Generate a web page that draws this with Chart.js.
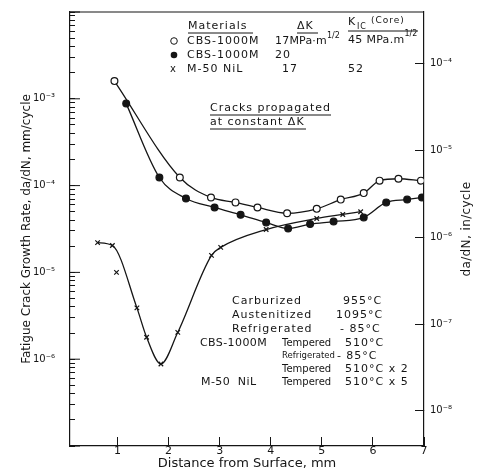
<!DOCTYPE html>
<html>
<head>
<meta charset="utf-8">
<script src="https://cdn.jsdelivr.net/npm/chart.js@4.4.0/dist/chart.umd.min.js"></script>
<style>
  html, body { margin: 0; padding: 0; background: #fff; }
  #wrap { width: 477px; height: 473px; }
</style>
</head>
<body>
<div id="wrap"><canvas id="crackChart" width="477" height="473"></canvas></div>
<script>
// distance from surface (mm) vs da/dN (mm/cycle)
const distOpen = [0.94, 2.22, 2.83, 3.31, 3.74, 4.32, 4.90, 5.37, 5.82, 6.13, 6.50, 6.94];
const rateOpen = [1.6e-3, 1.24e-4, 7.3e-5, 6.4e-5, 5.6e-5, 4.8e-5, 5.4e-5, 6.9e-5, 8.2e-5, 1.14e-4, 1.2e-4, 1.14e-4];

const distFilled = [1.17, 1.82, 2.34, 2.90, 3.41, 3.91, 4.34, 4.77, 5.23, 5.82, 6.26, 6.67, 6.96];
const rateFilled = [8.8e-4, 1.24e-4, 7.1e-5, 5.6e-5, 4.6e-5, 3.76e-5, 3.2e-5, 3.6e-5, 3.85e-5, 4.3e-5, 6.4e-5, 6.9e-5, 7.3e-5];

const distNil = [0.61, 0.90, 0.98, 1.38, 1.57, 1.85, 2.18, 2.84, 3.02, 3.91, 4.90, 5.41, 5.76];
const rateNil = [2.2e-5, 2.04e-5, 1.0e-5, 3.9e-6, 1.79e-6, 8.8e-7, 2.04e-6, 1.57e-5, 1.94e-5, 3.12e-5, 4.18e-5, 4.65e-5, 5.0e-5];
// the hand-drawn curve misses this scatter point
const nilOffCurve = [2];

const xTicks = [1, 2, 3, 4, 5, 6, 7];
const mmDecades = [1e-7, 1e-6, 1e-5, 1e-4, 1e-3, 1e-2];
const mmLabeled = [1e-6, 1e-5, 1e-4, 1e-3];
const inDecades = [1e-8, 1e-7, 1e-6, 1e-5, 1e-4];
const MM_PER_IN = 25.4;

const FONT = 'DejaVu Sans';
const INK = '#151515';

function toPoints(xs, ys) {
    return xs.map((x, i) => ({ x: x, y: ys[i] }));
}

const SUP = { '-': '\u207B', '0': '\u2070', '1': '\u00B9', '2': '\u00B2', '3': '\u00B3',
    '4': '\u2074', '5': '\u2075', '6': '\u2076', '7': '\u2077', '8': '\u2078', '9': '\u2079' };
function powLabel(v) {
    const e = Math.round(Math.log10(v));
    return '10' + String(e).split('').map(c => SUP[c]).join('');
}

// minor ticks 1..9 in every decade of the left axis
const mmTicks = [];
for (let d = 0; d < mmDecades.length - 1; d++) {
    for (let m = 1; m <= 9; m++) mmTicks.push(mmDecades[d] * m);
}
mmTicks.push(mmDecades[mmDecades.length - 1]);

function isLabeled(v) {
    return mmLabeled.some(d => Math.abs(v / d - 1) < 1e-6);
}

function noOverflow(s) {
    s.paddingTop = 0;
    s.paddingBottom = 0;
    s.paddingLeft = 0;
    s.paddingRight = 0;
}

// text blocks, longer major ticks on left axis, top frame line, right title
const decorations = {
    id: 'decorations',
    afterDraw(chart) {
        const ctx = chart.ctx;
        const area = chart.chartArea;
        const yScale = chart.scales.y;
        ctx.save();
        ctx.strokeStyle = INK;
        ctx.fillStyle = INK;
        ctx.lineWidth = 1.2;

        // top frame
        ctx.beginPath();
        ctx.moveTo(area.left, area.top);
        ctx.lineTo(area.right, area.top);
        ctx.stroke();

        // longer decade ticks on the left axis
        ctx.lineWidth = 1;
        mmDecades.forEach(v => {
            const py = yScale.getPixelForValue(v);
            ctx.beginPath();
            ctx.moveTo(area.left, py);
            ctx.lineTo(area.left + 10, py);
            ctx.stroke();
        });

        // right axis title, read bottom to top
        ctx.font = '12px "' + FONT + '"';
        ctx.letterSpacing = '0.4px';
        ctx.textAlign = 'center';
        ctx.textBaseline = 'middle';
        ctx.save();
        ctx.translate(467, (area.top + area.bottom) / 2);
        ctx.rotate(-Math.PI / 2);
        ctx.fillText('da/dN, in/cycle', 0, 0);
        ctx.restore();

        ctx.textAlign = 'left';
        function text(s, x, y, size, spacing) {
            ctx.font = (size || 11) + 'px "' + FONT + '"';
            ctx.letterSpacing = (spacing === undefined ? 1 : spacing) + 'px';
            ctx.fillText(s, x, y);
            return ctx.measureText(s).width;
        }
        function underline(x1, x2, y) {
            ctx.lineWidth = 1;
            ctx.beginPath();
            ctx.moveTo(x1, y);
            ctx.lineTo(x2, y);
            ctx.stroke();
        }

        // materials table
        text('Materials', 188, 26);
        underline(188, 253, 33);
        text('\u0394K', 297, 26);
        underline(297, 318, 33);
        text('K', 348, 22);
        text('IC', 357, 27, 8);
        text('(Core)', 371, 21, 9);
        underline(348, 418, 31);

        ctx.beginPath();
        ctx.arc(174, 41, 3.3, 0, Math.PI * 2);
        ctx.fillStyle = '#fff';
        ctx.fill();
        ctx.stroke();
        ctx.fillStyle = INK;
        text('CBS-1000M', 187, 41);
        let w = text('17MPa\u00B7m', 275, 41, 11, 0.2);
        text('1/2', 275 + w, 36, 8, 0);
        w = text('45 MPa.m', 348, 40, 11, 0.3);
        text('1/2', 348 + w, 34, 8, 0);

        ctx.beginPath();
        ctx.arc(174, 55, 3.3, 0, Math.PI * 2);
        ctx.fill();
        text('CBS-1000M', 187, 55);
        text('20', 275, 55);

        text('x', 170, 69, 10);
        text('M-50 NiL', 187, 69);
        text('17', 282, 69);
        text('52', 348, 69);

        text('Cracks propagated', 210, 108);
        underline(210, 331, 115);
        text('at constant \u0394K', 210, 122);
        underline(210, 306, 129);

        // heat treatment block
        text('Carburized', 232, 301);
        text('955\u00B0C', 343, 301);
        text('Austenitized', 232, 315);
        text('1095\u00B0C', 336, 315);
        text('Refrigerated', 232, 329);
        text('- 85\u00B0C', 340, 329);
        text('CBS-1000M', 200, 343, 11, 0.4);
        text('Tempered', 282, 343, 10, 0);
        text('510\u00B0C', 345, 343);
        w = text('Refrigerated', 282, 356, 8.5, 0);
        text('- 85\u00B0C', 282 + w + 2, 356);
        text('Tempered', 282, 369, 10, 0);
        text('510\u00B0C x 2', 345, 369);
        text('M-50  NiL', 201, 382, 11, 0.4);
        text('Tempered', 282, 382, 10, 0);
        text('510\u00B0C x 5', 345, 382);

        ctx.restore();
    }
};

const lineStyle = {
    borderColor: INK,
    borderWidth: 1.3,
    cubicInterpolationMode: 'monotone',
    pointBorderColor: INK,
    pointBorderWidth: 1.2
};

const ctx = document.getElementById('crackChart').getContext('2d');
const chart = new Chart(ctx, {
    type: 'scatter',
    data: {
        datasets: [
            Object.assign({
                label: 'CBS-1000M, \u0394K 17',
                data: toPoints(distOpen, rateOpen),
                showLine: true,
                pointStyle: 'circle',
                pointRadius: 3.4,
                pointBackgroundColor: '#fff'
            }, lineStyle),
            Object.assign({
                label: 'CBS-1000M, \u0394K 20',
                data: toPoints(distFilled, rateFilled),
                showLine: true,
                pointStyle: 'circle',
                pointRadius: 3.4,
                pointBackgroundColor: INK
            }, lineStyle),
            Object.assign({
                label: 'M-50 NiL, \u0394K 17',
                data: toPoints(distNil, rateNil),
                showLine: false,
                pointStyle: 'crossRot',
                pointRadius: 3.2,
                pointBackgroundColor: INK
            }, lineStyle),
            Object.assign({
                label: 'M-50 NiL curve',
                data: toPoints(distNil, rateNil).filter((p, i) => !nilOffCurve.includes(i)),
                showLine: true,
                pointRadius: 0
            }, lineStyle)
        ]
    },
    options: {
        responsive: false,
        animation: false,
        layout: { padding: { top: 12, left: 0, right: 0, bottom: 0 } },
        plugins: {
            legend: { display: false },
            tooltip: { enabled: false }
        },
        scales: {
            x: {
                type: 'linear',
                position: 'bottom',
                min: 0.07,
                max: 7,
                afterBuildTicks: s => { s.ticks = xTicks.map(v => ({ value: v })); },
                afterFit: s => { s.height = 27; noOverflow(s); },
                ticks: {
                    color: INK,
                    padding: 8,
                    font: { family: FONT, size: 11 }
                },
                grid: { drawOnChartArea: false, tickLength: -9, color: INK, tickWidth: 1 },
                border: { color: INK, width: 1.2 },
                title: {
                    display: true,
                    text: 'Distance from Surface, mm',
                    color: INK,
                    font: { family: FONT, size: 13 },
                    padding: { top: 0, bottom: 1.5 }
                }
            },
            y: {
                type: 'logarithmic',
                position: 'left',
                min: 1e-7,
                max: 1e-2,
                afterBuildTicks: s => { s.ticks = mmTicks.map(v => ({ value: v })); },
                afterFit: s => { s.width = 70; noOverflow(s); },
                ticks: {
                    color: INK,
                    padding: 20,
                    autoSkip: false,
                    font: { family: FONT, size: 10 },
                    callback: v => isLabeled(v) ? powLabel(v) : ''
                },
                grid: { drawOnChartArea: false, tickLength: -5, color: INK, tickWidth: 1 },
                border: { color: INK, width: 1.2 },
                title: {
                    display: true,
                    text: 'Fatigue Crack Growth Rate, da/dN, mm/cycle',
                    color: INK,
                    font: { family: FONT, size: 12 },
                    padding: { top: 20, bottom: 0 }
                }
            },
            yIn: {
                type: 'logarithmic',
                position: 'right',
                min: 1e-7 / MM_PER_IN,
                max: 1e-2 / MM_PER_IN,
                afterBuildTicks: s => { s.ticks = inDecades.map(v => ({ value: v })); },
                afterFit: s => { s.width = 53; noOverflow(s); },
                ticks: {
                    color: INK,
                    padding: 15,
                    autoSkip: false,
                    font: { family: FONT, size: 10 },
                    callback: v => powLabel(v)
                },
                grid: { drawOnChartArea: false, tickLength: -9, color: INK, tickWidth: 1 },
                border: { color: INK, width: 1.2 }
            }
        }
    },
    plugins: [decorations]
});
</script>
</body>
</html>
